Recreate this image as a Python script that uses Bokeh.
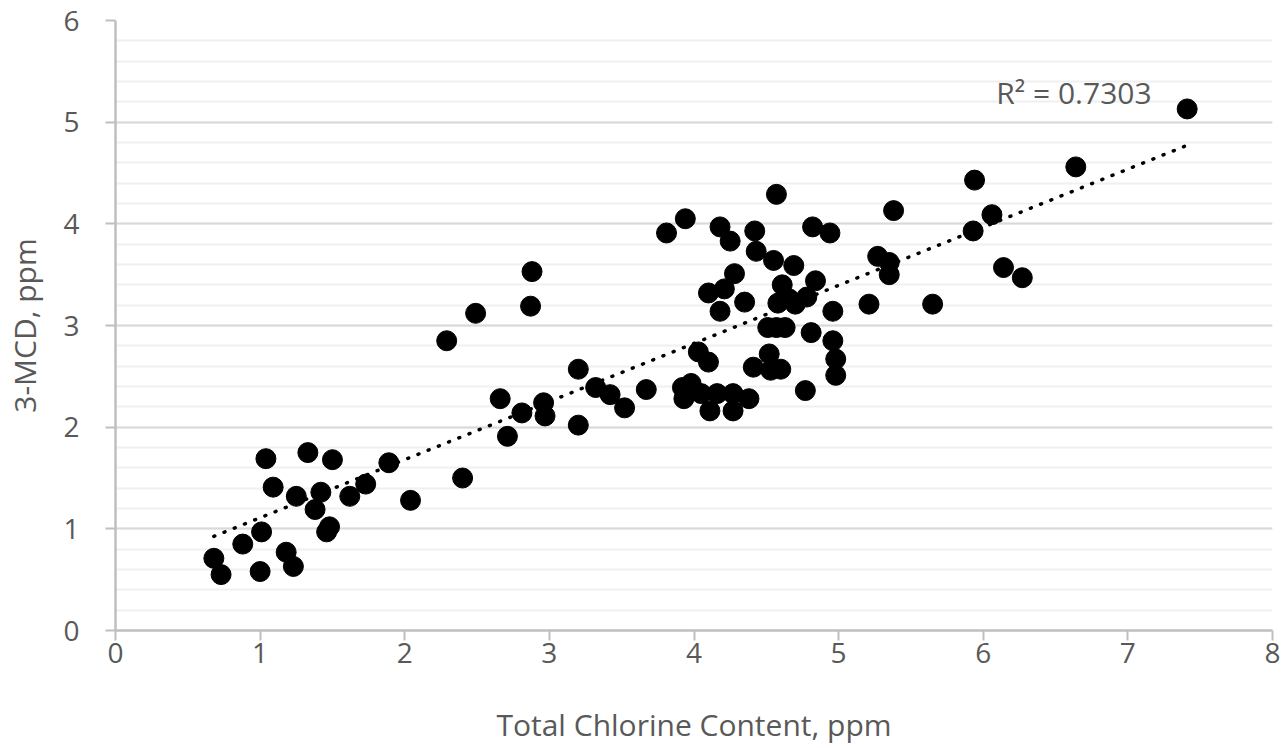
import numpy as np
from bokeh.plotting import figure
from bokeh.models import SingleIntervalTicker, Label, Range1d
from bokeh.embed import file_html
from bokeh.resources import INLINE

# Data
chlorine = [0.68, 0.73, 0.88, 1.00, 1.01, 1.04, 1.09, 1.18, 1.23, 1.25, 1.33, 1.38, 1.42, 1.46, 1.48, 1.50, 1.62, 1.73, 1.89, 2.04, 2.40,
            2.29, 2.49, 2.88, 2.87, 2.66, 2.81, 2.96, 2.97, 2.71, 3.20, 3.20, 3.32, 3.42, 3.52, 3.67,
            3.81, 3.94, 3.92, 3.98, 3.93, 4.05, 4.11, 4.16, 4.27, 4.27, 4.38, 4.03, 4.10, 4.41,
            4.18, 4.25, 4.42, 4.43, 4.57, 4.55, 4.69, 4.82, 4.94, 4.28, 4.21, 4.10, 4.18, 4.35,
            4.61, 4.58, 4.66, 4.70, 4.78, 4.84, 4.96, 4.51, 4.57, 4.63, 4.81, 4.96, 4.98, 4.98, 4.52, 4.53, 4.60, 4.77,
            5.21, 5.27, 5.35, 5.35, 5.38, 5.65, 5.93, 5.94, 6.06, 6.14, 6.27, 6.64, 7.41]
mcd = [0.71, 0.55, 0.85, 0.58, 0.97, 1.69, 1.41, 0.77, 0.63, 1.32, 1.75, 1.19, 1.36, 0.97, 1.02, 1.68, 1.32, 1.44, 1.65, 1.28, 1.50,
       2.85, 3.12, 3.53, 3.19, 2.28, 2.14, 2.24, 2.11, 1.91, 2.57, 2.02, 2.39, 2.32, 2.19, 2.37,
       3.91, 4.05, 2.39, 2.43, 2.28, 2.33, 2.16, 2.33, 2.33, 2.16, 2.28, 2.74, 2.64, 2.59,
       3.97, 3.83, 3.93, 3.73, 4.29, 3.64, 3.59, 3.97, 3.91, 3.51, 3.36, 3.32, 3.14, 3.23,
       3.40, 3.22, 3.26, 3.21, 3.28, 3.44, 3.14, 2.98, 2.98, 2.98, 2.93, 2.85, 2.67, 2.51, 2.72, 2.56, 2.57, 2.36,
       3.21, 3.68, 3.62, 3.50, 4.13, 3.21, 3.93, 4.43, 4.09, 3.57, 3.47, 4.56, 5.13]
r2_text = "R² = 0.7303"
x_title = "Total Chlorine Content, ppm"
y_title = "3-MCD, ppm"

FONT = "Open Sans"
GREY = "#595959"

p = figure(width=1280, height=748, x_range=Range1d(0, 8), y_range=Range1d(0, 6),
           output_backend="svg", toolbar_location=None,
           min_border_left=115, min_border_right=8, min_border_top=20, min_border_bottom=118)
p.outline_line_color = None
p.background_fill_color = "white"

p.xgrid.grid_line_color = None
p.yaxis.ticker = SingleIntervalTicker(interval=1, num_minor_ticks=5)
p.xaxis.ticker = SingleIntervalTicker(interval=1)
p.ygrid.grid_line_color = "#D9D9D9"
p.ygrid.grid_line_width = 2
p.ygrid.minor_grid_line_color = "#F0F0F0"
p.ygrid.minor_grid_line_width = 2

for ax in (p.xaxis[0], p.yaxis[0]):
    ax.axis_line_color = "#BFBFBF"
    ax.axis_line_width = 2.5
    ax.major_tick_line_color = "#BFBFBF"
    ax.major_tick_line_width = 2
    ax.major_tick_in = 0
    ax.major_tick_out = 10
    ax.minor_tick_line_color = None
    ax.major_label_text_font = FONT
    ax.major_label_text_font_size = "28px"
    ax.major_label_text_color = GREY
    ax.axis_label_text_font = FONT
    ax.axis_label_text_font_size = "30px"
    ax.axis_label_text_color = GREY
    ax.axis_label_text_font_style = "normal"

p.xaxis.axis_label = x_title
p.yaxis.axis_label = y_title
p.yaxis.major_label_standoff = 26
p.xaxis.major_label_standoff = 2
p.yaxis.axis_label_standoff = 15
p.xaxis.axis_label_standoff = 38

# Linear trendline computed from the data
xa = np.array(chlorine)
ya = np.array(mcd)
slope, intercept = np.polyfit(xa, ya, 1)
tx = np.array([xa.min(), xa.max()])
ty = slope * tx + intercept
p.line(tx, ty, line_color="black", line_width=3.5, line_dash="1 10", line_cap="round")

p.scatter(chlorine, mcd, size=20, fill_color="black", line_color="black")

p.add_layout(Label(x=6.09, y=5.29, text=r2_text, text_font=FONT, text_font_size="30px",
                   text_color=GREY, text_baseline="alphabetic"))

open("out.html", "w").write(file_html(p, INLINE))
